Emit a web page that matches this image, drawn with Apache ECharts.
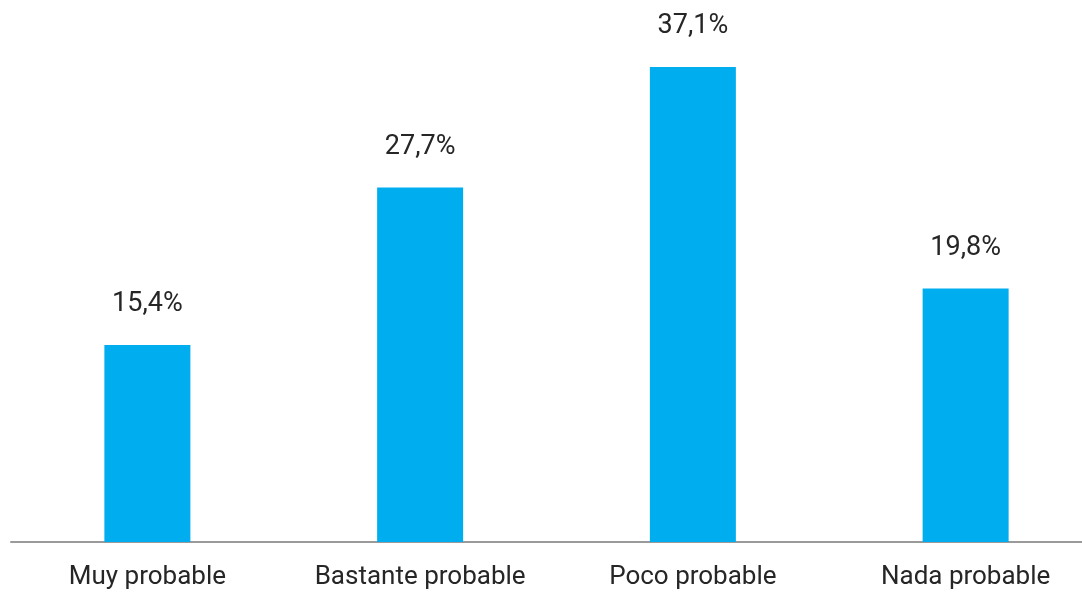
<!DOCTYPE html>
<html><head><meta charset="utf-8">
<script src="https://cdn.jsdelivr.net/npm/echarts@6/dist/echarts.min.js"></script>
<style>html,body{margin:0;padding:0;background:#fff;overflow:hidden}#c{width:1102px;height:595px}</style>
</head><body><div id="c"></div>
<script>
const categories = ['Muy probable', 'Bastante probable', 'Poco probable', 'Nada probable'];
const values = [15.4, 27.7, 37.1, 19.8];
const FONT = '"Roboto", sans-serif';
const chart = echarts.init(document.getElementById('c'));
chart.setOption({
  animation: false,
  grid: { left: 11, right: 0, top: 30, height: 512, containLabel: false },
  xAxis: {
    type: 'category', data: categories,
    axisLine: { lineStyle: { color: '#9a9a9a', width: 2 } },
    axisTick: { show: false },
    axisLabel: { interval: 0, color: '#262626', fontSize: 26, fontFamily: FONT, margin: 22 }
  },
  yAxis: { type: 'value', min: 0, max: 40, show: false, splitLine: { show: false } },
  series: [{
    type: 'bar', data: values, barWidth: 86,
    itemStyle: { color: '#00AEEF' },
    label: { show: true, position: 'top', distance: 27, color: '#262626', fontSize: 27, fontFamily: FONT,
      formatter: p => p.value.toFixed(1).replace('.', ',') + '%' }
  }]
});
</script></body></html>
